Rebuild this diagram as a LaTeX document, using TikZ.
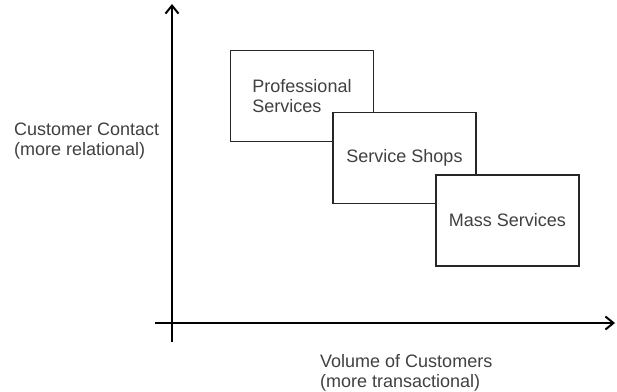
\documentclass[tikz,border=0pt]{standalone}
\usepackage{fontspec}
\setmainfont{Liberation Sans}
\usetikzlibrary{arrows.meta}
\definecolor{txt}{HTML}{404040}
\begin{document}
\begin{tikzpicture}[x=1pt,y=-1pt,
  box/.style={draw=black!85, line width=1.3pt, fill=white, minimum width=143pt,
    minimum height=91pt, inner sep=0pt, font=\fontsize{18}{20.5}\selectfont,
    text=txt, align=left},
  lbl/.style={font=\fontsize{18}{20.5}\selectfont, text=txt, align=left, inner sep=0pt},
  axis/.style={line width=2pt, -{Straight Barb[length=8pt,width=13pt,line width=2pt]}}]
\useasboundingbox (0,0) rectangle (617,391);
\coordinate (vb) at (172,342);
\coordinate (vt) at (172,4);
\coordinate (hl) at (155,323);
\coordinate (hr) at (615,323);
\draw[axis] (vb) -- (vt);
\draw[axis] (hl) -- (hr);
\node[box] (prof) at (302,96) {Professional\\Services};
\node[box] (shop) at (404.5,158) {Service Shops};
\node[box] (mass) at (507.5,220.5) {Mass Services};
\node[lbl, anchor=west] (ylab) at (14,141) {Customer Contact\\(more relational)};
\node[lbl, anchor=west] (xlab) at (320,373) {Volume of Customers\\(more transactional)};
\end{tikzpicture}
\end{document}
